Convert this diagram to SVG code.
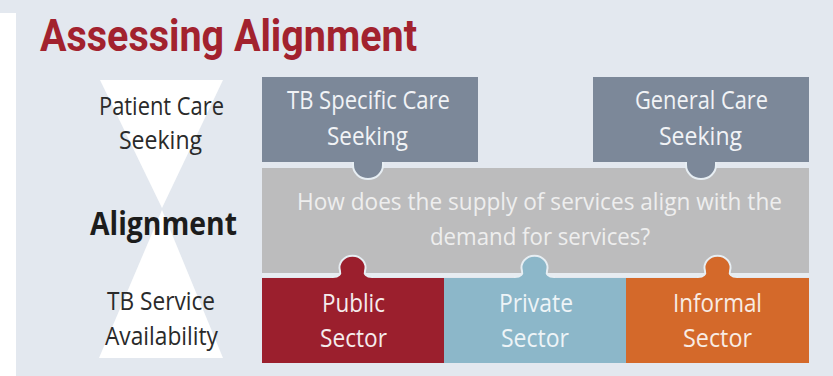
<svg xmlns="http://www.w3.org/2000/svg" width="833" height="376" viewBox="0 0 833 376">
<style>
.lbl{font-family:"Open Sans","Noto Sans","DejaVu Sans",sans-serif;font-size:26px;fill:#2a2a2a;text-anchor:middle}
.wt{font-family:"Open Sans","Noto Sans","DejaVu Sans",sans-serif;font-size:26px;fill:#f1f3f6;text-anchor:middle}
.q{font-family:"Open Sans","Noto Sans","DejaVu Sans",sans-serif;font-size:24px;fill:#eeeeee;text-anchor:middle}
.bx{font-family:"Open Sans","Noto Sans","DejaVu Sans",sans-serif;font-size:26px;fill:#f5ecec;text-anchor:middle}
.tab{stroke:#e7eef3;stroke-width:2}
</style>
<rect x="0" y="0" width="833" height="376" fill="#e3e8ef"/>
<rect x="0" y="13" width="16" height="363" fill="#ffffff"/>
<g id="title">
<text x="40" y="51" textLength="377" lengthAdjust="spacingAndGlyphs" style="font-family:Roboto,'Liberation Sans',sans-serif;font-size:45px;font-weight:bold;fill:#a2222e">Assessing Alignment</text>
</g>
<g id="hourglass">
<polygon points="100,80 223,80 162,208" fill="#ffffff"/>
<polygon points="162,210 99,358 223,358" fill="#ffffff"/>
</g>
<g id="label-patient">
<text class="lbl" x="161.5" y="115" textLength="125" lengthAdjust="spacingAndGlyphs">Patient Care</text>
<text class="lbl" x="160.5" y="149" textLength="83" lengthAdjust="spacingAndGlyphs">Seeking</text>
</g>
<g id="label-alignment">
<text x="163.5" y="235" textLength="147" lengthAdjust="spacingAndGlyphs" style="font-family:'Open Sans','Noto Sans',sans-serif;font-size:32px;font-weight:bold;fill:#1c1c1c;text-anchor:middle">Alignment</text>
</g>
<g id="label-service">
<text class="lbl" x="161" y="310" textLength="108" lengthAdjust="spacingAndGlyphs">TB Service</text>
<text class="lbl" x="161.5" y="345" textLength="113" lengthAdjust="spacingAndGlyphs">Availability</text>
</g>
<g id="alignment-question">
<rect x="262" y="168" width="547" height="105" fill="#bcbcbd"/>
<text class="q" x="539.5" y="210" textLength="485" lengthAdjust="spacingAndGlyphs">How does the supply of services align with the</text>
<text class="q" x="540" y="245" textLength="220" lengthAdjust="spacingAndGlyphs">demand for services?</text>
</g>
<g id="connectors">
<path class="tab" d="M353,158 L353,165 A15,14 0 0 0 383,165 L383,158 Z" fill="#7c8899"/>
<path class="tab" d="M686,158 L686,165 A15,14 0 0 0 716,165 L716,158 Z" fill="#7c8899"/>
<rect x="262" y="273" width="547" height="4" fill="#e7ecf1"/>
<path class="tab" d="M333,280 L333,277 C339,277 341,274 340,271 A13,12 0 1 1 365,271 C364,274 366,277 372,277 L372,280 Z" fill="#9b1f2d"/>
<path class="tab" d="M515,280 L515,277 C521,277 523,274 522,271 A13,12 0 1 1 547,271 C546,274 548,277 554,277 L554,280 Z" fill="#8cb7c9"/>
<path class="tab" d="M698,280 L698,277 C704,277 706,274 705,271 A13,12 0 1 1 730,271 C729,274 731,277 737,277 L737,280 Z" fill="#d4692a"/>
</g>
<g id="tb-specific">
<rect x="262" y="77" width="216" height="85" fill="#7c8899"/>
<text class="wt" x="368.5" y="109" textLength="163" lengthAdjust="spacingAndGlyphs">TB Specific Care</text>
<text class="wt" x="367.5" y="145" textLength="81" lengthAdjust="spacingAndGlyphs">Seeking</text>
</g>
<g id="general-care">
<rect x="593" y="77" width="216" height="85" fill="#7c8899"/>
<text class="wt" x="701.5" y="109" textLength="133" lengthAdjust="spacingAndGlyphs">General Care</text>
<text class="wt" x="700.5" y="145" textLength="83" lengthAdjust="spacingAndGlyphs">Seeking</text>
</g>
<g id="public-sector">
<rect x="262" y="278" width="182" height="85" fill="#9b1f2d"/>
<text class="bx" x="353.5" y="312" textLength="63" lengthAdjust="spacingAndGlyphs">Public</text>
<text class="bx" x="353.5" y="347" textLength="67" lengthAdjust="spacingAndGlyphs">Sector</text>
</g>
<g id="private-sector">
<rect x="444" y="278" width="182" height="85" fill="#8cb7c9"/>
<text class="bx" x="536" y="312" textLength="74" lengthAdjust="spacingAndGlyphs" style="fill:#eef4f7">Private</text>
<text class="bx" x="535" y="347" textLength="68" lengthAdjust="spacingAndGlyphs" style="fill:#eef4f7">Sector</text>
</g>
<g id="informal-sector">
<rect x="626" y="278" width="183" height="85" fill="#d4692a"/>
<text class="bx" x="717.5" y="312" textLength="89" lengthAdjust="spacingAndGlyphs" style="fill:#f8ece4">Informal</text>
<text class="bx" x="717.5" y="347" textLength="69" lengthAdjust="spacingAndGlyphs" style="fill:#f8ece4">Sector</text>
</g>
</svg>
